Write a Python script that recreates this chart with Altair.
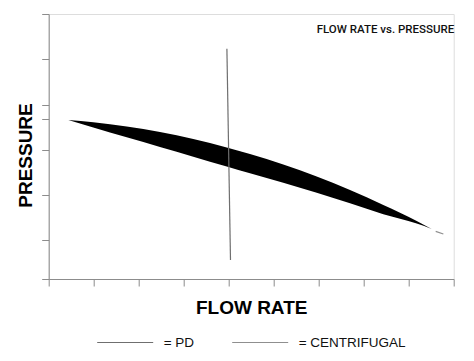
import altair as alt
import pandas as pd

# Centrifugal curve drawn as a tapered band (flow rate, pressure upper/lower edge)
band_x = [0.436, 0.991, 1.733, 2.473, 3.213, 3.956, 4.473, 5.213, 5.956, 6.696, 7.436, 8.178, 8.511]
band_top = [3.522, 3.471, 3.376, 3.257, 3.101, 2.913, 2.769, 2.537, 2.271, 1.972, 1.639, 1.285, 1.108]
band_bottom = [3.522, 3.356, 3.139, 2.924, 2.709, 2.492, 2.342, 2.133, 1.912, 1.677, 1.433, 1.227, 1.108]

# thin tail of the centrifugal curve
tail_x = [8.60, 8.77]
tail_y = [1.055, 0.997]

# PD (positive displacement) curve: nearly vertical line
pd_x = [3.96, 4.04]
pd_y = [5.10, 0.42]

x_ticks = [0, 1, 2, 3, 4, 5, 6, 7, 8, 9]
y_ticks = [0, 0.864, 1.868, 2.858, 3.538, 3.861, 4.867, 5.87]

series = ["= PD", "= CENTRIFUGAL"]
series_colors = ["#6f6f6f", "#8f8f8f"]

band_df = pd.DataFrame({"x": band_x, "top": band_top, "bottom": band_bottom})
lines_df = pd.DataFrame({
    "x": pd_x + tail_x,
    "y": pd_y + tail_y,
    "series": [series[0]] * len(pd_x) + [series[1]] * len(tail_x),
})

FONT = "Liberation Sans"
AX = "#8c8c8c"

x_enc = alt.X(
    "x:Q",
    scale=alt.Scale(domain=[0, 9], nice=False, zero=False),
    axis=alt.Axis(values=x_ticks, tickCount=30, labels=False, grid=False, tickSize=7,
                  domainColor=AX, tickColor=AX, title="FLOW RATE",
                  titleFont=FONT, titleFontSize=19, titleFontWeight="bold",
                  titleColor="#000000", titlePadding=12),
)
y_scale = alt.Scale(domain=[0, 5.87], nice=False, zero=False)
y_axis = alt.Axis(values=y_ticks, tickCount=30, labels=False, grid=False, tickSize=7,
                  domainColor=AX, tickColor=AX, title="PRESSURE",
                  titleFont=FONT, titleFontSize=19, titleFontWeight="bold",
                  titleColor="#000000", titlePadding=6, titleY=141)

band = alt.Chart(band_df).mark_area(color="#000000", interpolate="monotone").encode(
    x=x_enc,
    y=alt.Y("top:Q", scale=y_scale, axis=y_axis),
    y2="bottom:Q",
)

lines = alt.Chart(lines_df).mark_line(strokeWidth=1.2).encode(
    x=alt.X("x:Q"),
    y=alt.Y("y:Q"),
    stroke=alt.Stroke(
        "series:N",
        scale=alt.Scale(domain=series, range=series_colors),
        legend=alt.Legend(
            title=None, orient="none", direction="horizontal",
            legendX=48, legendY=300, symbolType="stroke", symbolSize=3136,
            symbolStrokeWidth=1, labelOffset=10, columnPadding=35,
            labelFont=FONT, labelFontSize=13.5, labelColor="#111111",
            padding=0,
        ),
    ),
)

chart = alt.layer(band, lines).properties(
    width=405,
    height=265,
    title=alt.TitleParams("FLOW RATE vs. PRESSURE", anchor="end", font="Roboto",
                          fontSize=11.5, fontWeight=500, color="#111111",
                          offset=-31, baseline="alphabetic"),
    autosize=alt.AutoSizeParams(type="none"),
    padding={"left": 40.7, "top": 6, "right": 12.3, "bottom": 74},
).configure_view(strokeWidth=0).configure(background="white")

chart.save("out.html", embed_options={"renderer": "svg", "actions": False})
